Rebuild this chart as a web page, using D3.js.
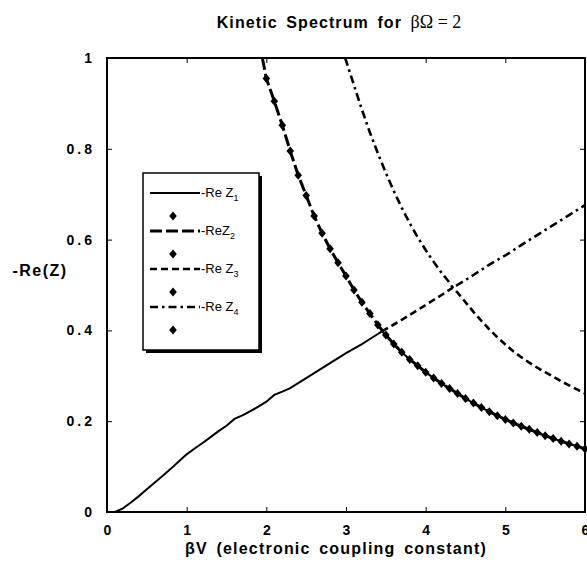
<!DOCTYPE html>
<html>
<head>
<meta charset="utf-8">
<script src="https://cdn.jsdelivr.net/npm/d3@7"></script>
<style>
  body { margin: 0; background: #fff; }
  svg { display: block; }
  .tick text { font-family: "Liberation Sans", Arial, sans-serif; font-weight: bold; font-size: 14px; }
</style>
</head>
<body>
<svg width="587" height="566"></svg>
<script>
// tick values
var xTicks = [0, 1, 2, 3, 4, 5, 6];
var yTicks = [0, 0.2, 0.4, 0.6, 0.8, 1];

// lower rising branch (Re Z1 before the coalescence point)
var lowRise = [
  [0.10, 0.000], [0.2, 0.008], [0.3, 0.021], [0.4, 0.035], [0.5, 0.050],
  [0.6, 0.065], [0.7, 0.080], [0.8, 0.095], [0.9, 0.111], [1.0, 0.127],
  [1.1, 0.140], [1.2, 0.152], [1.3, 0.165], [1.4, 0.178], [1.5, 0.190],
  [1.6, 0.205], [1.7, 0.213], [1.8, 0.222], [1.9, 0.232], [2.0, 0.243],
  [2.1, 0.258], [2.2, 0.265], [2.3, 0.273], [2.4, 0.284], [2.5, 0.295],
  [2.6, 0.306], [2.7, 0.317], [2.8, 0.328], [2.9, 0.339], [3.0, 0.350],
  [3.1, 0.360], [3.2, 0.370], [3.3, 0.381], [3.4, 0.392], [3.45, 0.398]
];

// lower falling branch (Re Z2, with markers)
var lowFall = [
  [1.95, 1.000], [2.0, 0.955], [2.1, 0.905], [2.2, 0.852], [2.3, 0.795],
  [2.4, 0.742], [2.5, 0.697], [2.6, 0.652], [2.7, 0.614], [2.8, 0.580],
  [2.9, 0.549], [3.0, 0.520], [3.1, 0.489], [3.2, 0.462], [3.3, 0.437],
  [3.4, 0.412], [3.5, 0.390], [3.6, 0.370], [3.7, 0.352], [3.8, 0.336],
  [3.9, 0.322], [4.0, 0.308], [4.1, 0.295], [4.2, 0.283], [4.3, 0.272],
  [4.4, 0.261], [4.5, 0.250], [4.6, 0.240], [4.7, 0.230], [4.8, 0.221],
  [4.9, 0.212], [5.0, 0.204], [5.1, 0.196], [5.2, 0.189], [5.3, 0.182],
  [5.4, 0.175], [5.5, 0.168], [5.6, 0.162], [5.7, 0.156], [5.8, 0.150],
  [5.9, 0.145], [6.0, 0.139]
];

// upper rising branch
var highRise = [
  [3.45, 0.398], [3.6, 0.413], [3.8, 0.434], [4.0, 0.456], [4.2, 0.478],
  [4.4, 0.500], [4.6, 0.522], [4.8, 0.545], [5.0, 0.565], [5.2, 0.588],
  [5.4, 0.610], [5.6, 0.632], [5.8, 0.654], [6.0, 0.676]
];

// upper falling branch
var highFall = [
  [2.99, 1.000], [3.1, 0.940], [3.2, 0.886], [3.3, 0.836], [3.4, 0.790],
  [3.5, 0.747], [3.6, 0.707], [3.7, 0.670], [3.8, 0.636], [3.9, 0.605],
  [4.0, 0.577], [4.1, 0.551], [4.2, 0.527], [4.3, 0.505], [4.4, 0.483],
  [4.5, 0.462], [4.6, 0.441], [4.7, 0.421], [4.8, 0.402], [4.9, 0.385],
  [5.0, 0.369], [5.1, 0.354], [5.2, 0.341], [5.3, 0.329], [5.4, 0.318],
  [5.5, 0.308], [5.6, 0.298], [5.7, 0.288], [5.8, 0.279], [5.9, 0.270],
  [6.0, 0.261]
];

// where the two upper branches cross
var crossing = [4.34, 0.494];

var legendNames = ["-Re Z", "-ReZ", "-Re Z", "-Re Z"];
var legendSubs = ["1", "2", "3", "4"];

function main()
{
  // assemble the four series
  var z1 = lowRise.concat(lowFall.filter(function (d) { return d[0] > 3.45; }));
  var z2 = lowFall;
  var z3 = highRise.filter(function (d) { return d[0] < crossing[0]; })
    .concat([crossing], highFall.filter(function (d) { return d[0] > crossing[0]; }));
  var z4 = highFall.filter(function (d) { return d[0] < crossing[0]; })
    .concat([crossing], highRise.filter(function (d) { return d[0] > crossing[0]; }));

  var styles = [
    { width: 2, dash: null },
    { width: 3, dash: "12,4" },
    { width: 2.6, dash: "7,4" },
    { width: 2.6, dash: "8,4,2.5,4" }
  ];
  var series = [z1, z2, z3, z4];

  var svg = d3.select("svg");
  var plotL = 107, plotR = 585, plotT = 58, plotB = 512;

  var x = d3.scaleLinear().domain([0, 6]).range([plotL, plotR]);
  var y = d3.scaleLinear().domain([0, 1]).range([plotB, plotT]);

  var yFormat = function (d) { return (d === 0 || d === 1) ? String(d) : d.toFixed(1); };

  // axes with inward ticks
  svg.append("g")
    .attr("transform", "translate(0," + plotB + ")")
    .call(d3.axisBottom(x).tickValues(xTicks).tickFormat(d3.format("d"))
      .tickSizeInner(-5).tickSizeOuter(0).tickPadding(13))
    .call(function (g) { g.select(".domain").remove(); });

  svg.append("g")
    .attr("transform", "translate(" + plotL + ",0)")
    .call(d3.axisLeft(y).tickValues(yTicks).tickFormat(yFormat)
      .tickSizeInner(-5).tickSizeOuter(0).tickPadding(12))
    .call(function (g) { g.select(".domain").remove(); })
    .selectAll("text").attr("letter-spacing", "3px");

  svg.append("g")
    .attr("transform", "translate(0," + plotT + ")")
    .call(d3.axisTop(x).tickValues(xTicks).tickSizeInner(-5).tickSizeOuter(0).tickFormat(""))
    .call(function (g) { g.select(".domain").remove(); });

  svg.append("g")
    .attr("transform", "translate(" + plotR + ",0)")
    .call(d3.axisRight(y).tickValues(yTicks).tickSizeInner(-5).tickSizeOuter(0).tickFormat(""))
    .call(function (g) { g.select(".domain").remove(); });

  // plot frame
  svg.append("rect")
    .attr("x", plotL).attr("y", plotT)
    .attr("width", plotR - plotL).attr("height", plotB - plotT)
    .attr("fill", "none").attr("stroke", "#000").attr("stroke-width", 2);

  var line = d3.line()
    .x(function (d) { return x(d[0]); })
    .y(function (d) { return y(d[1]); });

  // curves
  series.forEach(function (s, i) {
    svg.append("path")
      .datum(s)
      .attr("d", line)
      .attr("fill", "none")
      .attr("stroke", "#000")
      .attr("stroke-width", styles[i].width)
      .attr("stroke-dasharray", styles[i].dash);
  });

  // diamond markers on Re Z2
  var diamond = "M0,-4.5L3.8,0L0,4.5L-3.8,0Z";
  svg.append("g")
    .selectAll("path")
    .data(z2.filter(function (d) { return d[1] < 1; }))
    .enter()
    .append("path")
    .attr("d", diamond)
    .attr("transform", function (d) { return "translate(" + x(d[0]) + "," + y(d[1]) + ")"; })
    .attr("fill", "#000");

  // title
  var title = svg.append("text")
    .attr("x", 339).attr("y", 28)
    .attr("text-anchor", "middle");
  title.append("tspan")
    .attr("font-family", "Liberation Sans, Arial, sans-serif")
    .attr("font-weight", "bold").attr("font-size", 16)
    .attr("letter-spacing", 1.1)
    .attr("word-spacing", 3)
    .text("Kinetic Spectrum for ");
  title.append("tspan")
    .attr("font-family", "Liberation Serif, Times New Roman, serif")
    .attr("font-size", 18)
    .text("\u03b2\u03a9 = 2");

  // axis titles
  svg.append("text")
    .attr("x", 40).attr("y", 276)
    .attr("text-anchor", "middle")
    .attr("font-family", "Liberation Sans, Arial, sans-serif")
    .attr("font-weight", "bold").attr("font-size", 16)
    .attr("letter-spacing", 1.5)
    .text("-Re(Z)");

  svg.append("text")
    .attr("x", 336).attr("y", 554)
    .attr("text-anchor", "middle")
    .attr("font-family", "Liberation Sans, Arial, sans-serif")
    .attr("font-weight", "bold").attr("font-size", 16)
    .attr("letter-spacing", 1.2)
    .attr("word-spacing", 3)
    .text("\u03b2V (electronic coupling constant)");

  // legend
  var lg = svg.append("g").attr("transform", "translate(143,173)");
  lg.append("rect").attr("x", 3).attr("y", 3).attr("width", 116).attr("height", 177).attr("fill", "#000");
  lg.append("rect").attr("x", 0).attr("y", 0).attr("width", 116).attr("height", 177)
    .attr("fill", "#fff").attr("stroke", "#000").attr("stroke-width", 1.5);

  legendNames.forEach(function (name, i) {
    var ly = 20 + i * 38;
    lg.append("line")
      .attr("x1", 7).attr("x2", 57).attr("y1", ly).attr("y2", ly)
      .attr("stroke", "#000")
      .attr("stroke-width", styles[i].width)
      .attr("stroke-dasharray", styles[i].dash);
    var t = lg.append("text")
      .attr("x", 58).attr("y", ly + 4)
      .attr("font-family", "Liberation Sans, Arial, sans-serif")
      .attr("font-size", 13);
    t.append("tspan").text(name);
    t.append("tspan").attr("dy", 4).attr("font-size", 9).text(legendSubs[i]);
    lg.append("path")
      .attr("d", diamond)
      .attr("transform", "translate(30," + (ly + 23) + ")")
      .attr("fill", "#000");
  });
}

main();
</script>
</body>
</html>
